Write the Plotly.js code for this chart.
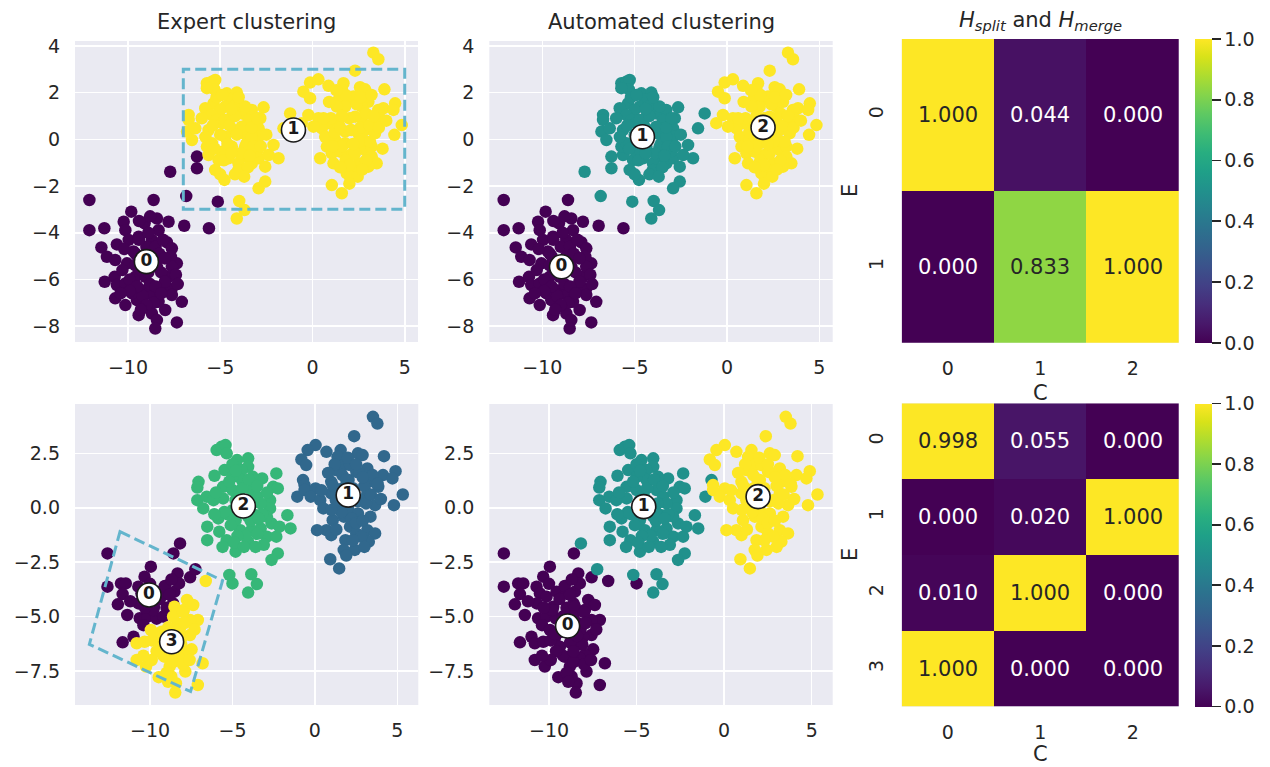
<!DOCTYPE html>
<html><head><meta charset="utf-8">
<script src="https://cdn.plot.ly/plotly-3.0.1.min.js"></script>
<style>html,body{margin:0;padding:0;background:#fff}#chart{width:1270px;height:767px}</style>
</head><body><div id="chart"></div>
<script>
// ---------------- DATA ----------------
// Top dataset: groups keyed by (expert label E, automated label C)
const topE0C0x = [-12.09,-8.61,-9.82,-12.09,-11.28,-11.44,-11.14,-10.23,-10.14,-8.43,
 -7.80,-6.95,-5.61,-8.34,-9.96,-9.42,-8.70,-7.89,-7.62,-7.35,
 -7.67,-8.16,-10.69,-10.05,-9.60,-11.26,-10.72,-10.60,-10.14,-9.60,
 -7.80,-7.62,-7.89,-7.65,-8.38,-7.62,-10.69,-10.14,-9.51,-9.24,
 -7.08,-7.98,-9.42,-8.70,-8.43,-8.52,-7.35,-8.88,-8.34,-9.78,
 -9.06,-8.43,
 -9.0,-8.7,-9.3,-8.2,-8.8,-9.5,-8.5,-9.9,-8.0,-9.2,-8.6,-9.7,-8.1,-9.1,-8.8,-10.6,
 -9.4,-8.3,-9.0,-8.5,-9.6,-10.3,-8.9,-8.5,-9.5,-9.9,-8.2,-9.0,-8.0,-10.2,-10.4,-9.3,-8.9,-9.4,-7.4,-7.3];
const topE0C0y = [-2.60,-2.60,-3.10,-3.89,-3.81,-4.63,-5.03,-3.53,-3.89,-3.39,
 -3.53,-3.70,-3.81,-3.89,-4.31,-4.17,-4.31,-4.41,-4.67,-5.31,
 -5.03,-5.03,-5.17,-5.31,-4.89,-6.10,-5.89,-6.24,-6.17,-5.89,
 -5.89,-5.46,-6.31,-6.46,-6.60,-6.67,-6.81,-7.10,-6.89,-6.46,
 -6.96,-7.31,-7.53,-7.46,-7.74,-8.10,-7.84,-6.60,-6.96,-6.60,
 -5.89,-5.46,
 -4.6,-5.0,-5.6,-5.7,-6.2,-5.0,-4.6,-6.0,-6.1,-6.7,-7.0,-4.8,-4.3,-3.6,-3.3,-4.5,
 -4.3,-4.9,-5.2,-5.4,-5.4,-5.6,-5.7,-6.3,-6.3,-6.5,-6.6,-7.1,-5.1,-4.7,-6.6,-7.3,-4.0,-3.5,-5.8,-6.2];
const topE0C1x = [-6.26,-6.26,-5.13,-7.71,-6.84];
const topE0C1y = [-0.74,-1.24,-2.67,-1.39,-2.43];
const topE1C1x = [-5.72,-5.45,-5.27,-5.31,-5.72,-4.64,-4.10,-4.46,-4.01,-4.73,
 -5.36,-5.00,-5.81,-6.71,-6.71,-6.80,-6.35,-6.53,-5.45,-5.18,
 -4.37,-3.83,-3.29,-2.65,-2.83,-2.92,-2.92,-3.10,-3.65,-3.74,
 -4.01,-4.55,-5.09,-5.63,-5.72,-5.27,-4.77,-4.01,-3.29,-2.92,
 -2.56,-2.11,-1.84,-2.38,-1.21,-1.57,-2.56,-2.92,-3.97,-3.68,
 -4.10,-5.63,-4.91,-4.28,-3.74,-3.56,-4.37,-4.91,-5.45,-4.73,
 -3.29,-3.47,-3.83,-4.73,-4.28,-3.65,
 -4.5,-5.0,-3.9,-4.6,-5.3,-3.0,-4.2,-5.2,-4.2,-3.5,
 -4.9,-4.0,-4.4,-5.4,-5.8,-4.1,-3.3,-3.2,-4.8,-4.4,-3.4,-5.0,-3.7,-6.0,-2.5,-2.8,-3.0];
const topE1C1y = [2.40,2.47,2.54,2.14,2.19,1.97,2.00,1.69,1.54,1.40,
 1.54,1.26,1.33,1.04,0.83,0.33,0.47,-0.03,1.04,0.83,
 0.97,1.11,1.26,1.37,0.90,0.47,0.11,-0.31,-0.31,-0.74,
 -1.03,-0.81,-0.89,-0.67,-0.31,-1.31,-1.74,-1.31,-1.03,-0.81,
 -1.17,-0.24,-0.81,-0.67,1.11,0.47,-1.81,-2.10,-2.64,-3.03,
 -3.39,0.40,0.69,0.40,0.26,-0.17,-0.31,-0.53,-0.17,0.11,
 0.11,0.83,0.54,0.83,1.40,1.40,
 0.6,0.2,-0.6,-0.2,-0.4,-0.5,1.0,1.8,-1.5,-1.2,
 1.9,1.8,1.3,0.6,0.1,0.2,0.5,-0.3,-0.9,-0.6,-0.7,-1.5,-1.6,0.9,0.2,-0.3,0.9];
const topE1C2x = [3.30,3.57,2.31,0.32,-0.13,-0.49,-0.13,0.87,1.68,1.59,
 2.58,2.85,3.90,1.41,1.95,2.22,3.03,3.84,4.48,4.39,
 3.57,2.67,1.77,1.32,-0.22,-0.58,0.32,0.87,0.51,0.05,
 3.39,3.66,2.67,2.85,3.39,4.44,4.84,0.69,1.23,0.78,
 1.05,1.77,2.04,2.49,2.85,3.21,3.21,3.48,3.03,2.49,
 2.22,1.86,2.04,2.45,0.42,1.14,1.05,1.59,1.50,2.76,
 3.12,1.77,1.41,2.31,2.49,
 2.0,1.6,2.6,1.2,2.3,1.8,2.9,2.4,1.0,3.1,2.5,1.6,2.0,
 1.8,2.6,3.2,0.9,3.3,1.5,2.1,3.6,1.1,2.2,2.9,2.7,1.5,0.6,3.8,4.0,2.0,1.3];
const topE1C2y = [3.71,3.43,2.94,2.57,2.43,2.04,1.76,2.29,2.40,2.11,
 2.23,2.14,2.14,1.69,1.69,1.83,1.61,1.33,1.54,1.26,
 1.26,1.40,1.40,1.40,1.04,0.69,0.90,0.69,0.47,0.54,
 0.83,0.90,0.90,0.40,0.26,0.19,0.61,0.11,-0.03,-0.31,
 -0.60,-0.17,-0.67,-0.31,-0.46,-0.31,-0.74,-1.03,-1.17,-1.03,
 -1.31,-1.46,-1.60,-1.60,-0.81,-1.03,-1.96,-2.31,-0.53,-0.03,
 -0.10,0.33,0.69,0.97,0.26,
 0.9,1.0,0.5,0.3,-0.6,-0.9,1.1,1.5,0.9,0.6,-0.1,-0.3,-1.1,
 1.9,1.8,1.9,1.6,1.0,0.5,0.4,0.5,-0.3,-0.2,-0.9,-1.3,-1.2,0.9,-0.4,0.8,-1.9,2.1];

// Bottom dataset
const botE0C0x = [-12.58,-8.58,-9.95,-10.33,-8.33,-7.57,-12.58,-11.76,-11.47,-10.71,
 -11.66,-11.95,-11.38,-10.52,-10.14,-9.57,-9.00,-8.52,-8.24,-10.62,
 -10.14,-9.76,-11.66,-11.00,-9.0,-9.6,-8.6,-9.8,-9.1,-8.7,-10.7,
 -9.4,-10.3,-8.8,-10.0,-11.2,-10.4,-9.2];
const botE0C0y = [-2.10,-2.10,-2.71,-3.17,-3.02,-3.20,-3.63,-3.48,-3.48,-3.63,
 -3.97,-4.44,-4.93,-3.94,-4.09,-3.86,-3.94,-3.86,-3.48,-5.08,
 -5.01,-4.55,-6.19,-5.93,-4.6,-5.1,-4.4,-4.7,-3.6,-3.3,-4.4,
 -4.2,-4.6,-4.0,-3.5,-4.3,-5.4,-5.0];
const botE3C0x = [-6.62,-7.76,-7.38,-7.10,-7.57,-7.95,-8.52,-9.95,-10.81,-10.33,
 -9.67,-7.57,-7.48,-7.95,-7.86,-6.81,-7.10,-8.43,-8.47,-8.71,
 -9.47,-10.24,-10.81,-8.81,-8.24,-9.09,-8.43,-8.05,-8.33,-9.38,
 -8.6,-9.3,-8.2,-8.8,-9.9,-8.1,-9.2,-8.6,-8.0,
 -8.9,-8.4,-9.6,-8.6,-9.9,-9.0,-8.0,-7.6,-10.4,-9.7,-7.9,-7.3,-8.9];
const botE3C0y = [-3.37,-4.24,-4.47,-5.16,-5.16,-4.70,-4.55,-5.62,-6.23,-6.16,
 -6.00,-5.85,-6.51,-6.77,-7.53,-7.15,-8.15,-8.07,-8.50,-7.76,
 -7.79,-7.30,-7.00,-7.30,-6.92,-6.85,-6.23,-5.93,-5.31,-6.39,
 -5.0,-5.7,-5.6,-6.2,-6.1,-6.3,-6.8,-7.1,-4.8,
 -5.5,-5.9,-6.6,-6.6,-7.0,-7.6,-7.2,-7.0,-6.8,-5.8,-5.3,-5.6,-8.0];
const botE2C0x = [-5.00];
const botE2C0y = [-3.48];
const botE0C1x = [-8.18,-7.25];
const botE0C1y = [-1.64,-2.83];
const botE1C1x = [-1.07,-0.72];
const botE1C1y = [0.51,1.27];
const botE2C1x = [-5.96,-5.67,-5.42,-5.35,-4.72,-4.05,-4.05,-4.43,-5.48,-6.09,
 -7.06,-7.13,-7.13,-6.56,-6.77,-5.57,-5.57,-5.00,-3.86,-3.20,
 -2.34,-2.53,-2.25,-2.72,-2.72,-3.48,-3.58,-5.86,-5.80,-6.53,
 -6.53,-5.35,-4.81,-4.53,-4.05,-3.86,-3.29,-2.91,-2.34,-2.63,
 -1.67,-1.48,-2.15,-2.25,-2.63,-5.19,-3.86,-3.52,-4.05,-4.81,
 -4.34,-4.81,-4.05,-5.00,-6.15,-3.29,-2.91,-4.43,-3.77,-5.00,
 -4.6,-5.1,-3.9,-4.4,-3.5,-5.3,-4.2,-3.2,-4.7,-3.8,
 -5.0,-4.8,-5.2,-4.0,-3.5,-6.0,-5.5,-3.9,-3.4,-4.9,-3.1,-4.3,-6.1,-2.9,-3.6,-5.6];
const botE2C1y = [2.65,2.80,2.88,2.50,2.19,2.27,1.88,1.73,1.73,1.47,
 1.19,0.93,0.35,0.51,-0.03,0.96,0.43,0.81,0.81,1.35,
 1.58,0.96,0.89,0.35,-0.03,0.51,-0.34,-0.49,-1.10,-0.87,
 -1.49,-1.49,-2.02,-1.03,-1.56,-1.03,-0.95,-1.33,-1.33,-0.72,
 -0.34,-0.95,-0.87,-2.10,-2.40,-3.09,-3.06,-3.51,-3.90,0.35,
 -0.11,-0.57,-0.41,-0.11,0.35,0.20,-0.41,1.27,1.42,1.42,
 0.6,-0.8,-0.6,0.9,-1.2,-0.3,-1.3,-0.3,-1.3,0.2,
 2.0,1.7,1.2,1.3,1.0,0.7,-0.2,-0.2,-0.5,-1.6,-1.7,-1.8,-0.3,0.7,-1.8,-1.8];
const botE1C2x = [3.52,3.79,2.38,0.04,-0.44,-0.82,-0.53,0.70,1.56,1.37,
 2.61,2.89,4.19,1.27,1.75,2.13,3.18,4.13,4.89,4.70,
 3.84,2.51,1.66,0.99,-0.63,-0.63,0.04,-0.25,0.32,0.51,
 3.27,3.65,3.18,4.79,5.33,0.99,1.27,0.70,0.13,1.08,
 1.75,2.13,2.51,3.18,3.65,3.27,2.80,1.85,1.75,2.42,
 0.99,0.93,1.47,2.04,2.61,2.80,3.37,2.04,
 1.7,2.3,2.6,1.4,2.2,1.9,3.0,2.7,1.1,3.1,2.5,1.6,
 2.0,2.5,1.2,3.5,2.9,0.8,1.3,2.2,3.4,1.0,2.9,1.3,2.3,3.0,1.9,0.4,4.0,3.8];
const botE1C2y = [4.18,3.87,3.29,2.88,2.65,2.22,1.96,2.57,2.65,2.34,
 2.50,2.42,2.37,1.73,1.96,1.96,1.81,1.50,1.68,1.35,
 0.96,1.65,1.50,1.19,1.04,0.81,0.89,0.51,0.35,-0.03,
 1.19,0.12,0.66,0.12,0.61,0.66,0.35,-1.03,-1.03,-0.57,
 -0.41,-0.87,-1.18,-1.03,-1.18,-1.56,-1.33,-1.49,-1.94,-1.94,
 -1.26,-2.37,-2.79,-0.11,-0.26,0.35,-0.41,1.27,
 0.9,0.9,0.3,0.1,-0.5,1.3,1.0,1.6,1.0,0.2,-0.7,-0.2,
 2.3,2.0,2.0,1.5,1.4,1.6,0.6,0.4,0.6,-0.1,-0.6,-1.0,-1.5,-1.8,-2.2,0.8,0.4,1.1];

// Cluster centre labels
const topExpertCx = [-9.0, -1.03],  topExpertCy = [-5.24, 0.40];
const topAutoCx = [-8.96, -4.58, 1.95], topAutoCy = [-5.46, 0.11, 0.51];
const botExpertCx = [-10.06, 2.02, -4.34, -8.69], botExpertCy = [-4.01, 0.58, 0.08, -6.16];
const botAutoCx = [-8.94, -4.59, 1.94], botAutoCy = [-5.44, 0.05, 0.51];

// Dashed regions
const topRectX = [-7, 5], topRectY = [-3, 3];
const botQuadX = [-11.82, -5.60, -7.54, -13.68], botQuadY = [-1.10, -3.35, -8.45, -6.28];

// Heatmaps
const heatCols = ['0', '1', '2'];
const heatTopRows = ['0', '1'];
const heatTopZ = [[1.000, 0.044, 0.000], [0.000, 0.833, 1.000]];
const heatBotRows = ['0', '1', '2', '3'];
const heatBotZ = [[0.998, 0.055, 0.000], [0.000, 0.020, 1.000], [0.010, 1.000, 0.000], [1.000, 0.000, 0.000]];

// ---------------- BUILD ----------------
const W = 1270, H = 767;
const FONT = 'DejaVu Sans, Verdana, sans-serif';
const INK = '#262626';
const BLUE = '#64b5cd';
const px = v => v / W, py = v => 1 - v / H;

const topGroups = [
  {x: topE0C0x, y: topE0C0y, e: 0, c: 0},
  {x: topE0C1x, y: topE0C1y, e: 0, c: 1},
  {x: topE1C1x, y: topE1C1y, e: 1, c: 1},
  {x: topE1C2x, y: topE1C2y, e: 1, c: 2}
];
const botGroups = [
  {x: botE0C0x, y: botE0C0y, e: 0, c: 0},
  {x: botE3C0x, y: botE3C0y, e: 3, c: 0},
  {x: botE2C0x, y: botE2C0y, e: 2, c: 0},
  {x: botE0C1x, y: botE0C1y, e: 0, c: 1},
  {x: botE1C1x, y: botE1C1y, e: 1, c: 1},
  {x: botE2C1x, y: botE2C1y, e: 2, c: 1},
  {x: botE1C2x, y: botE1C2y, e: 1, c: 2}
];

function pointsTrace(groups, key, kmax, xa, ya) {
  const X = [], Y = [], C = [];
  groups.forEach(g => g.x.forEach((v, i) => { X.push(v); Y.push(g.y[i]); C.push(g[key]); }));
  return {type: 'scatter', mode: 'markers', x: X, y: Y, xaxis: xa, yaxis: ya,
    marker: {size: 12.5, color: C, colorscale: 'Viridis', cmin: 0, cmax: kmax, line: {width: 0}},
    hoverinfo: 'skip', showlegend: false};
}
function centreTrace(cx, cy, xa, ya) {
  return {type: 'scatter', mode: 'markers+text', x: cx, y: cy, xaxis: xa, yaxis: ya,
    text: cx.map((_, i) => String(i)), textposition: 'middle center',
    textfont: {family: FONT, size: 17, color: '#1a1a1a', weight: 'bold'},
    marker: {size: 24, color: '#ffffff', line: {color: '#1a1a1a', width: 1.6}},
    cliponaxis: false, hoverinfo: 'skip', showlegend: false};
}
function heatTrace(z, rows, xa, ya, cbTop, cbBot) {
  return {type: 'heatmap', z: z, x: heatCols, y: rows, xaxis: xa, yaxis: ya,
    colorscale: 'Viridis', zmin: 0, zmax: 1, hoverinfo: 'skip',
    colorbar: {x: px(1195), xanchor: 'left', xpad: 0, ypad: 0,
      y: py((cbTop + cbBot) / 2), yanchor: 'middle', len: (cbBot - cbTop) / H, lenmode: 'fraction',
      thickness: 17, thicknessmode: 'pixels', outlinewidth: 0,
      ticks: 'outside', ticklen: 9, tickwidth: 1.8, tickcolor: INK,
      tick0: 0, dtick: 0.2, tickformat: '.1f',
      tickfont: {family: FONT, size: 19, color: INK}}};
}

const data = [
  pointsTrace(topGroups, 'e', 1, 'x', 'y'),
  centreTrace(topExpertCx, topExpertCy, 'x', 'y'),
  pointsTrace(topGroups, 'c', 2, 'x2', 'y2'),
  centreTrace(topAutoCx, topAutoCy, 'x2', 'y2'),
  heatTrace(heatTopZ, heatTopRows, 'x3', 'y3', 39, 342.7),
  pointsTrace(botGroups, 'e', 3, 'x4', 'y4'),
  centreTrace(botExpertCx, botExpertCy, 'x4', 'y4'),
  pointsTrace(botGroups, 'c', 2, 'x5', 'y5'),
  centreTrace(botAutoCx, botAutoCy, 'x5', 'y5'),
  heatTrace(heatBotZ, heatBotRows, 'x6', 'y6', 403.3, 706.7)
];

const tickfont = {family: FONT, size: 19, color: INK};
function sx(l, r, range, anchor) {
  return {domain: [px(l), px(r)], anchor: anchor, range: range, tick0: 0, dtick: 5,
    showgrid: true, gridcolor: '#ffffff', gridwidth: 1.6, zeroline: false, showline: false,
    ticks: '', ticklabelstandoff: 12, tickfont: tickfont, fixedrange: true};
}
function sy(t, b, range, dtick, fmt, anchor) {
  return {domain: [py(b), py(t)], anchor: anchor, range: range, tick0: 0, dtick: dtick, tickformat: fmt,
    showgrid: true, gridcolor: '#ffffff', gridwidth: 1.6, zeroline: false, showline: false,
    ticks: '', ticklabelstandoff: 14, tickfont: tickfont, fixedrange: true};
}
function hx(anchor) {
  return {domain: [px(901.7), px(1179)], anchor: anchor, type: 'category', showgrid: false, zeroline: false,
    ticks: '', ticklabelstandoff: 12, tickfont: tickfont, fixedrange: true};
}
function hy(t, b, anchor) {
  return {domain: [py(b), py(t)], anchor: anchor, type: 'category', autorange: 'reversed', showgrid: false,
    zeroline: false, ticks: '', tickangle: -90, ticklabelstandoff: 14, tickfont: tickfont, fixedrange: true};
}

const annotations = [];
function addText(text, xPx, yPx, size, angle) {
  annotations.push({xref: 'paper', yref: 'paper', x: px(xPx), y: py(yPx), xanchor: 'center', yanchor: 'middle',
    text: text, showarrow: false, textangle: angle || 0, font: {family: FONT, size: size, color: INK}});
}
addText('Expert clustering', 246.5, 22, 21);
addText('Automated clustering', 661, 22, 21);
addText('<i>H</i><sub><i>split</i></sub> and <i>H</i><sub><i>merge</i></sub>', 1040.3, 21, 21);
addText('C', 1040.3, 393, 21);
addText('C', 1040.3, 754, 21);
addText('E', 850, 191, 21, -90);
addText('E', 850, 555, 21, -90);

function heatAnn(z, rows, xa, ya) {
  z.forEach((row, i) => row.forEach((v, j) => {
    annotations.push({xref: xa, yref: ya, x: heatCols[j], y: rows[i], text: v.toFixed(3), showarrow: false,
      font: {family: FONT, size: 21, color: v > 0.5 ? INK : '#ffffff'}});
  }));
}
heatAnn(heatTopZ, heatTopRows, 'x3', 'y3');
heatAnn(heatBotZ, heatBotRows, 'x6', 'y6');

const shapes = [
  {type: 'rect', xref: 'x', yref: 'y', x0: topRectX[0], x1: topRectX[1], y0: topRectY[0], y1: topRectY[1],
   line: {color: BLUE, width: 3, dash: '11px,5px'}, fillcolor: 'rgba(0,0,0,0)', layer: 'above'},
  {type: 'path', xref: 'x4', yref: 'y4',
   path: 'M' + botQuadX.map((v, i) => v + ',' + botQuadY[i]).join('L') + 'Z',
   line: {color: BLUE, width: 3, dash: '11px,5px'}, fillcolor: 'rgba(0,0,0,0)', layer: 'above'}
];

const layout = {
  width: W, height: H, margin: {l: 0, r: 0, t: 0, b: 0, autoexpand: false},
  paper_bgcolor: '#ffffff', plot_bgcolor: '#eaeaf2', showlegend: false, hovermode: false,
  font: {family: FONT, color: INK},
  xaxis: sx(75, 418, [-12.87, 5.72], 'y'),
  yaxis: sy(41, 342, [-8.68, 4.21], 2, '', 'x'),
  xaxis2: sx(489.3, 832.7, [-12.87, 5.72], 'y2'),
  yaxis2: sy(41, 342, [-8.68, 4.21], 2, '', 'x2'),
  xaxis3: hx('y3'),
  yaxis3: hy(39, 342.7, 'x3'),
  xaxis4: sx(75, 418.3, [-14.55, 6.27], 'y4'),
  yaxis4: sy(404, 705, [-9.07, 4.77], 2.5, '.1f', 'x4'),
  xaxis5: sx(489.3, 832.7, [-13.41, 6.2], 'y5'),
  yaxis5: sy(404, 705, [-9.07, 4.77], 2.5, '.1f', 'x5'),
  xaxis6: hx('y6'),
  yaxis6: hy(403.3, 706.7, 'x6'),
  annotations: annotations,
  shapes: shapes
};

Plotly.newPlot('chart', data, layout, {displayModeBar: false, staticPlot: true});
</script></body></html>
